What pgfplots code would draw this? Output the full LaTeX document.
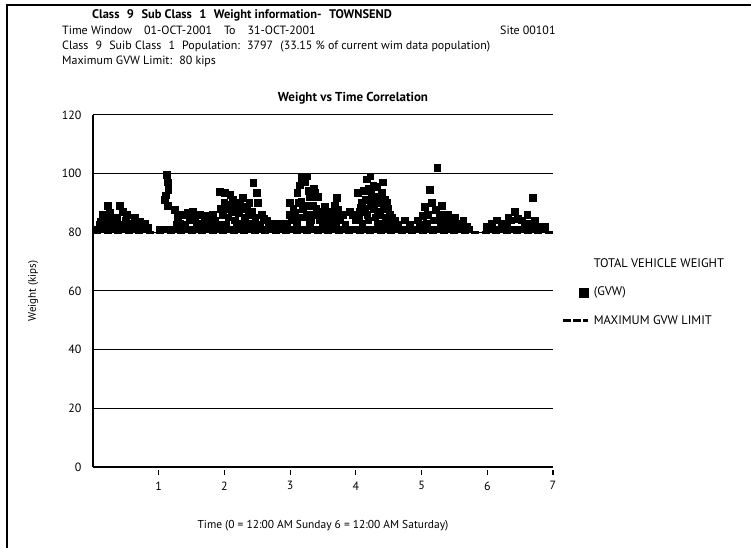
\documentclass[border=0pt]{standalone}
\usepackage{pgfplots}
\pgfplotsset{compat=1.18}
\usepackage{fontspec}
\setmainfont{PT Sans}
\pgfplotstableread{
x y
0.06 81
0.14 81
0.22 81
0.30 81
0.38 81
0.46 81
0.54 81
0.62 81
0.70 81
0.78 81
0.84 81
1.02 81
1.10 81
1.18 81
1.26 81
1.34 81
1.42 81
1.50 81
1.58 81
1.66 81
1.74 81
1.82 81
1.90 81
1.98 81
2.06 81
2.14 81
2.22 81
2.30 81
2.38 81
2.46 81
2.54 81
2.62 81
2.70 81
2.78 81
2.86 81
2.94 81
3.02 81
3.10 81
3.18 81
3.26 81
3.34 81
3.42 81
3.50 81
3.58 81
3.66 81
3.74 81
3.82 81
3.90 81
3.98 81
4.06 81
4.14 81
4.22 81
4.30 81
4.38 81
4.46 81
4.54 81
4.62 81
4.70 81
4.78 81
4.86 81
4.94 81
5.02 81
5.10 81
5.18 81
5.26 81
5.34 81
5.42 81
5.50 81
5.58 81
5.66 81
5.72 81
5.99 81
6.07 81
6.15 81
6.23 81
6.31 81
6.39 81
6.47 81
6.55 81
6.63 81
6.71 81
6.79 81
6.88 81
0.10 82.5
0.15 86
0.18 84
0.23 89
0.26 86.6
0.30 84
0.33 82.5
0.37 85
0.41 89
0.46 87
0.50 84
0.52 86
0.56 83
0.60 82.5
0.64 85
0.68 83
0.72 83.5
0.76 82
0.79 83
0.84 81.5
0.12 83.5
0.28 82.5
0.44 82.5
0.20 82
1.10 91
1.13 99.6
1.14 97
1.15 94.5
1.14 89
1.11 92.5
1.25 87.6
1.29 85
1.32 83
1.36 86
1.40 82.5
1.44 86.6
1.48 84
1.52 87
1.55 85
1.60 83
1.63 86
1.67 82.5
1.70 84
1.74 85.5
1.78 83
1.83 86
1.86 84
1.27 82.5
1.58 82.5
1.90 82.5
1.93 93.8
2.01 93.4
2.04 89.3
2.09 92.7
2.13 91
2.19 88.6
2.28 91.7
2.34 88.6
2.44 96.8
2.50 93.4
2.51 90
2.57 86
2.65 84
2.72 83
2.85 83
2.95 83
1.98 86
2.06 85
2.11 87
2.16 84
2.22 86.5
2.25 83
2.31 85
2.37 86
2.40 83
2.47 85
2.55 82.5
2.60 84.5
2.68 82.5
2.78 82.5
2.90 82.5
2.02 82.5
2.19 82.5
2.33 82.5
2.45 82.5
1.95 88
2.00 90
2.07 88
2.15 89
2.24 90
2.30 88
2.38 90
2.42 87
3.00 90
3.00 86
3.11 93.4
3.15 96
3.18 98.5
3.26 99
3.23 97
3.30 92
3.38 93.4
3.36 95
3.42 92
3.53 88.6
3.64 85
3.71 91.7
3.73 87.6
3.84 82.5
3.91 87
3.05 88
3.08 84
3.13 90
3.20 88
3.22 85
3.28 94
3.33 86
3.35 89
3.45 84
3.48 87
3.50 83
3.57 86
3.60 83
3.67 84
3.76 84
3.80 86
3.10 82.5
3.30 82.5
3.55 82.5
3.70 82.5
3.02 84
3.07 86.5
3.15 85
3.17 90.5
3.25 86
3.27 89
3.32 84
3.40 88
3.44 86
3.52 85
3.62 87
3.68 89
3.75 86
4.03 93.4
4.09 90
4.17 98
4.22 99
4.26 91
4.32 95.5
4.40 93.4
4.41 97
4.49 88
4.55 85
4.64 82.5
4.06 87
4.12 94
4.14 88
4.20 95
4.24 93
4.28 88
4.30 85
4.35 90
4.37 87
4.44 91
4.46 85
4.52 86
4.58 83
4.00 84
4.10 83
4.19 84
4.33 83
4.42 83
4.50 83
3.96 86
4.75 84
4.82 82.5
4.05 85
4.08 88.5
4.15 91
4.18 86
4.23 89
4.27 96
4.29 92
4.34 86
4.38 92
4.43 88
4.47 90
4.53 84
4.60 84
4.95 84
5.05 88.6
5.13 94.5
5.16 90
5.24 102
5.22 87.6
5.31 89
5.33 86
5.51 85
5.54 82.5
5.69 82
4.98 82.5
5.02 85.5
5.08 83
5.10 86
5.19 84
5.27 85
5.29 82.5
5.36 83.5
5.40 86
5.44 83
5.47 84
5.60 83
5.64 84
6.00 82
6.15 84
6.30 82.5
6.32 85
6.42 87
6.53 84
6.61 86
6.70 91.7
6.73 84
6.76 82
6.88 82
6.07 83
6.22 83
6.37 84
6.47 84.5
6.57 83
6.65 83
}\gvwdata
\begin{document}
\begin{tikzpicture}
\useasboundingbox (0bp,0bp) rectangle (751bp,548bp);
\draw[line width=2bp] (7bp,0bp) -- (7bp,543bp) -- (751bp,543bp);
\node[anchor=base west, inner sep=0pt, font=\bfseries\fontsize{12.5}{14}\selectfont] at (92bp,529bp)
  {Class\hspace{0.6em}9\hspace{0.6em}Sub Class\hspace{0.6em}1\hspace{0.6em}Weight information-\hspace{0.6em}TOWNSEND};
\node[anchor=base west, inner sep=0pt, font=\fontsize{12}{14}\selectfont] at (62bp,513bp)
  {Time Window\hspace{1em}01-OCT-2001\hspace{1em}To\hspace{1em}31-OCT-2001};
\node[anchor=base west, inner sep=0pt, font=\fontsize{12}{14}\selectfont] at (500bp,513bp) {Site 00101};
\node[anchor=base west, inner sep=0pt, font=\fontsize{12}{14}\selectfont] at (62bp,498bp)
  {Class\hspace{0.6em}9\hspace{0.6em}Suib Class\hspace{0.6em}1\hspace{0.6em}Population:\hspace{0.6em}3797\hspace{0.6em}(33.15 \% of current wim data population)};
\node[anchor=base west, inner sep=0pt, font=\fontsize{12}{14}\selectfont] at (62bp,483bp)
  {Maximum GVW Limit:\hspace{0.6em}80 kips};
\node[anchor=base, inner sep=0pt, font=\bfseries\fontsize{13}{15}\selectfont] at (353bp,446bp)
  {Weight vs Time Correlation};
\begin{axis}[
  at={(93bp,81bp)}, anchor=south west,
  scale only axis, width=460bp, height=352bp,
  xmin=0, xmax=7, ymin=0, ymax=120,
  axis lines=left, axis line style={-, line width=1.6bp},
  ytick={0,20,...,120}, ymajorgrids, grid style={black, line width=1bp},
  ytick style={draw=none},
  xtick={1,...,7}, xtick style={black, line width=1.2bp, yshift=-3bp},
  major tick length=5bp, tick align=outside,
  /pgf/number format/assume math mode=true,
  tick label style={font=\fontsize{12}{14}\selectfont},
  xticklabel style={yshift=-6bp},
  yticklabel style={xshift=-3bp},
  xlabel={Time (0 = 12:00 AM Sunday 6 = 12:00 AM Saturday)},
  xlabel style={at={(axis description cs:0.5,-0.168)}, anchor=center, font=\fontsize{11.5}{13}\selectfont},
  ylabel={Weight (kips)},
  ylabel style={at={(axis description cs:-0.13,0.5)}, anchor=center, font=\fontsize{11}{13}\selectfont},
  clip=false,
  legend style={at={(axis description cs:1.0196,0.598)}, anchor=north west, draw=none, fill=none,
    font=\fontsize{12.5}{14}\selectfont, row sep=14bp, inner sep=0pt, cells={anchor=west}},
  legend cell align=left,
]
\addlegendimage{legend image code/.code={\path[draw=none, fill=none] (0cm,-0.1cm) rectangle (1cm,0.1cm);}}
\addlegendentry{TOTAL VEHICLE WEIGHT}
\addplot[only marks, mark=square*, mark size=3.3bp, mark options={fill=black, draw=black, line width=0pt},
  legend image code/.code={\path[draw=none, fill=none] (0cm,-0.1cm) rectangle (1cm,0.1cm);
    \fill[black] (0.72cm-4.5bp,-4.5bp) rectangle (0.72cm+4.5bp,4.5bp);}]
  table {\gvwdata};
\addlegendentry{(GVW)}
\addplot[black, line width=2.5bp, dash pattern=on 8bp off 2.5bp,
  legend image code/.code={\path[draw=none, fill=none] (0cm,-0.1cm) rectangle (1cm,0.1cm);
    \draw[black, line width=2.5bp, dash pattern=on 7.5bp off 2.5bp] (0cm,0cm) -- (0.85cm,0cm);}]
  coordinates {(0,80) (7,80)};
\addlegendentry{MAXIMUM GVW LIMIT}
\end{axis}
\end{tikzpicture}
\end{document}
